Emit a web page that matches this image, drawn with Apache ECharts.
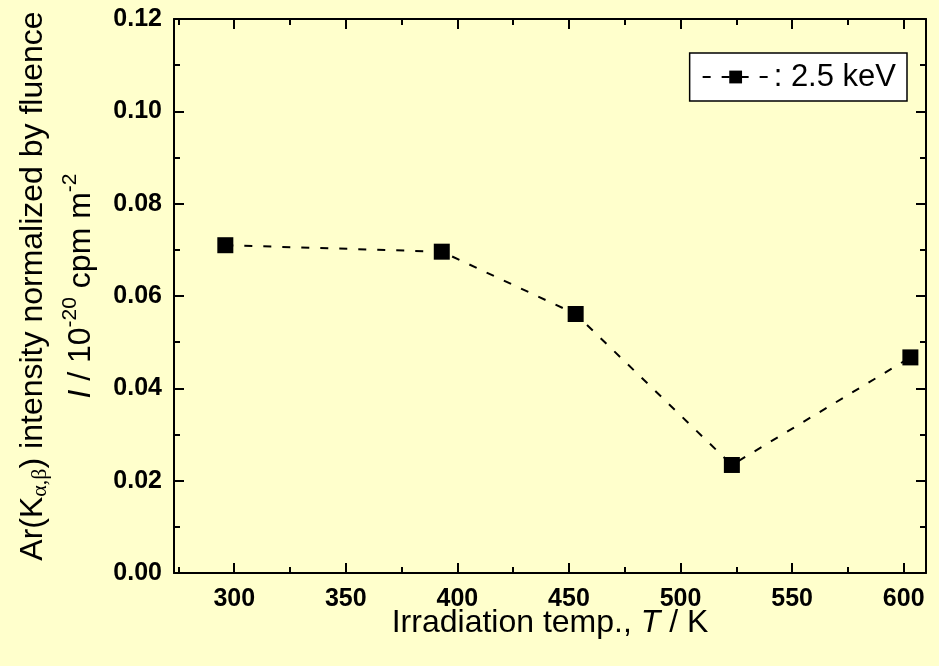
<!DOCTYPE html>
<html>
<head>
<meta charset="utf-8">
<script src="https://cdn.jsdelivr.net/npm/echarts@6/dist/echarts.min.js"></script>
<style>
  html, body { margin: 0; padding: 0; background: #FFFFCC; }
  #chart { width: 939px; height: 666px; }
</style>
</head>
<body>
<div id="chart"></div>
<script>
// irradiation temperature (K) vs Ar(K) intensity, 2.5 keV
const temps = [296, 393, 453, 523, 603]
const intensity = [0.0710, 0.0696, 0.0561, 0.0234, 0.0467]
const xMajorTicks = [300, 350, 400, 450, 500, 550, 600]
const xMinorTicks = [275, 325, 375, 425, 475, 525, 575]
const seriesName = '2.5 keV'

const FONT = 'Liberation Sans, Arial, sans-serif'
const X_MIN = 273
const X_MAX = 610

let points = []
for (let i = 0; i < temps.length; i++) {
  points.push([temps[i], intensity[i]])
}

function xAxisDef(pos, ticks, len, labels, line) {
  return {
    type: 'value',
    position: pos,
    min: X_MIN,
    max: X_MAX,
    axisLine: { show: line, onZero: false, lineStyle: { color: '#000', width: 2 } },
    axisTick: {
      inside: true,
      length: len,
      customValues: ticks,
      lineStyle: { color: '#000', width: 2 }
    },
    axisLabel: {
      show: labels,
      customValues: ticks,
      margin: 14,
      color: '#000',
      fontFamily: FONT,
      fontWeight: 'bold',
      fontSize: 25
    },
    splitLine: { show: false }
  }
}

function yAxisDef(pos, labels) {
  return {
    type: 'value',
    position: pos,
    min: 0,
    max: 0.12,
    interval: 0.02,
    axisLine: { show: true, onZero: false, lineStyle: { color: '#000', width: 2 } },
    axisTick: { inside: true, length: 10, lineStyle: { color: '#000', width: 2 } },
    minorTick: { show: true, splitNumber: 2, length: 6, lineStyle: { color: '#000', width: 2 } },
    axisLabel: {
      show: labels,
      margin: 12,
      color: '#000',
      fontFamily: FONT,
      fontWeight: 'bold',
      fontSize: 25,
      formatter: function (v) { return v.toFixed(2) }
    },
    splitLine: { show: false }
  }
}

let bottomX = xAxisDef('bottom', xMajorTicks, 10, true, true)
bottomX.name = 'Irradiation temp., {i|T} / K'
bottomX.nameLocation = 'middle'
bottomX.nameGap = 34
bottomX.nameMoveOverlap = false
bottomX.nameTextStyle = {
  color: '#000',
  fontFamily: FONT,
  fontSize: 32,
  rich: {
    i: { fontFamily: FONT, fontSize: 32, fontStyle: 'italic', color: '#000' }
  }
}

let leftY = yAxisDef('left', true)
leftY.name = '{a|Ar(K}{sub|α,β}{a|) intensity normalized by fluence}\n' +
  '{it|I}{a| / 10}{sup|-20}{a| cpm m}{sup|-2}'
leftY.nameLocation = 'middle'
leftY.nameRotate = 90
leftY.nameGap = 67
leftY.nameTextStyle = {
  color: '#000',
  padding: [0, 0, 0, 20],
  rich: {
    a: { fontFamily: FONT, fontSize: 32, lineHeight: 48, color: '#000' },
    it: { fontFamily: FONT, fontSize: 32, lineHeight: 48, fontStyle: 'italic', color: '#000' },
    sub: { fontFamily: 'Liberation Serif, serif', fontSize: 22, lineHeight: 48, color: '#000', padding: [14, 0, 0, 0] },
    sup: { fontFamily: FONT, fontSize: 21, lineHeight: 48, color: '#000', padding: [0, 0, 22, 0] }
  }
}

let option = {
  backgroundColor: '#FFFFCC',
  animation: false,
  grid: { left: 174, right: 13, top: 19, bottom: 93 },
  legend: {
    right: 32,
    top: 53,
    data: [seriesName],
    formatter: ': {name}',
    itemWidth: 66,
    itemHeight: 16,
    padding: [8, 11, 8, 12],
    backgroundColor: '#FFFFFF',
    borderColor: '#000',
    borderWidth: 1.5,
    borderRadius: 0,
    textStyle: { color: '#000', fontFamily: FONT, fontSize: 31, lineHeight: 32 }
  },
  xAxis: [
    bottomX,
    xAxisDef('bottom', xMinorTicks, 6, false, false),
    xAxisDef('top', xMajorTicks, 10, false, true),
    xAxisDef('top', xMinorTicks, 6, false, false)
  ],
  yAxis: [
    leftY,
    yAxisDef('right', false)
  ],
  series: [
    {
      name: seriesName,
      type: 'line',
      xAxisIndex: 0,
      yAxisIndex: 0,
      data: points,
      symbol: 'rect',
      symbolSize: 16,
      color: '#000',
      itemStyle: { color: '#000' },
      lineStyle: { color: '#000', width: 2, type: [8, 11] }
    }
  ]
}

let myChart = echarts.init(document.getElementById('chart'))
myChart.setOption(option)
</script>
</body>
</html>
